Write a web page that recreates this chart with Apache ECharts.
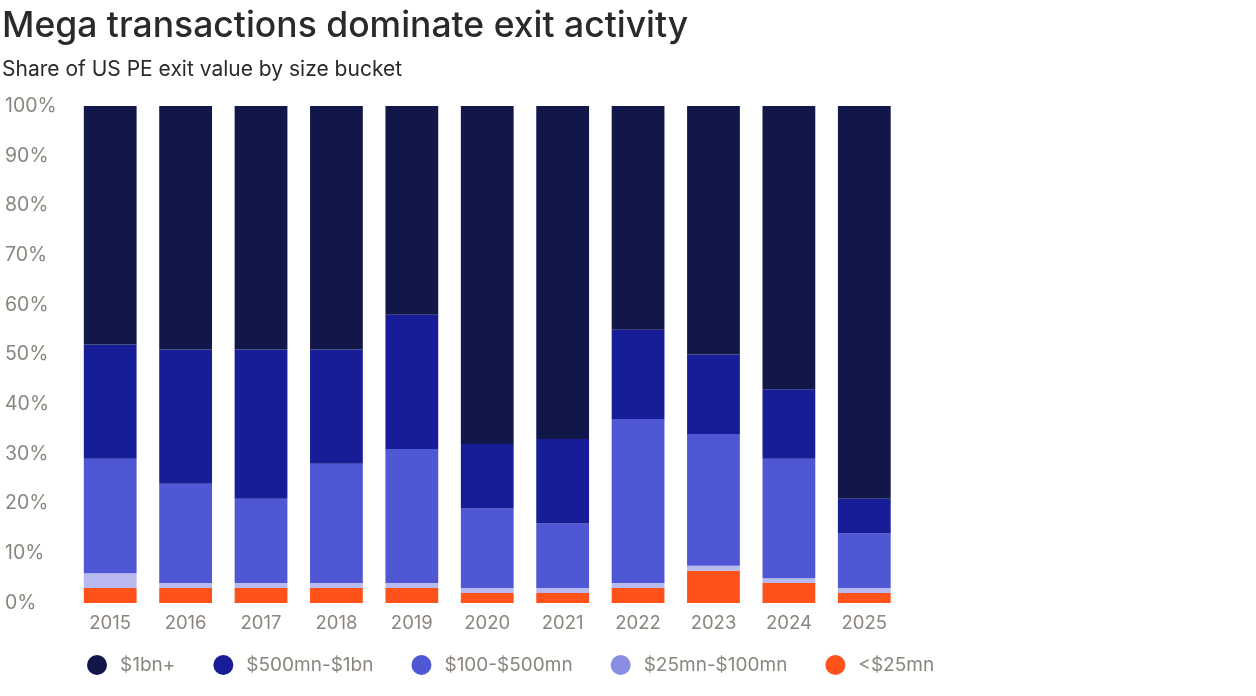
<!DOCTYPE html>
<html><head><meta charset="utf-8">
<script src="https://cdn.jsdelivr.net/npm/echarts@6/dist/echarts.min.js"></script>
<style>html,body{margin:0;padding:0;background:#fff}#c{width:1256px;height:696px}</style>
</head><body><div id="c"></div>
<script>
const years = ['2015','2016','2017','2018','2019','2020','2021','2022','2023','2024','2025'];
const lt25 = [3,3,3,3,3,2,2,3,6.5,4,2];
const m25_100 = [3,1,1,1,1,1,1,1,1,1,1];
const m100_500 = [23,20,17,24,27,16,13,33,26.5,24,11];
const m500_1bn = [23,27,30,23,27,13,17,18,16,14,7];
const bn1plus = [48,49,49,49,42,68,67,45,50,57,79];
const yTicks = ['0%','10%','20%','30%','40%','50%','60%','70%','80%','90%','100%'];

const names = ['$1bn+','$500mn-$1bn','$100-$500mn','$25mn-$100mn','<$25mn'];
const colors = {'$1bn+':'#12174a','$500mn-$1bn':'#161d96','$100-$500mn':'#5057d5','$25mn-$100mn':'#b8baef','<$25mn':'#ff521b'};
const legendColors = {'$1bn+':'#12174a','$500mn-$1bn':'#161d96','$100-$500mn':'#5057d5','$25mn-$100mn':'#8a8ee2','<$25mn':'#ff521b'};
const dataMap = {'<$25mn':lt25,'$25mn-$100mn':m25_100,'$100-$500mn':m100_500,'$500mn-$1bn':m500_1bn,'$1bn+':bn1plus};
const order = ['<$25mn','$25mn-$100mn','$100-$500mn','$500mn-$1bn','$1bn+'];

const chart = echarts.init(document.getElementById('c'));
chart.setOption({
  animation:false,
  textStyle:{fontFamily:'Inter'},
  title:[
    {text:'Mega transactions dominate exit activity',left:-3,top:3,textStyle:{fontFamily:'Inter',fontSize:35.5,fontWeight:500,color:'#2a2a2a'}},
    {text:'Share of US PE exit value by size bucket',left:-3,top:54,textStyle:{fontFamily:'Inter',fontSize:21,fontWeight:400,color:'#2a2a2a'}}
  ],
  legend:{
    left:82,top:650,icon:'circle',itemWidth:20,itemHeight:20,itemGap:38,
    textStyle:{fontSize:19,color:'#8a857e',padding:[0,0,0,8]},
    data:names.map(n=>({name:n,itemStyle:{color:legendColors[n]}}))
  },
  grid:{left:72.5,right:354,top:106,bottom:93},
  xAxis:{type:'category',data:years,axisLine:{show:false},axisTick:{show:false},
    axisLabel:{fontSize:18.5,color:'#8a857e',margin:11}},
  yAxis:{type:'value',min:0,max:100,interval:10,splitLine:{show:false},axisLine:{show:false},axisTick:{show:false},
    axisLabel:{align:'left',margin:67.5,fontSize:19.5,color:'#8a857e',formatter:(v)=>yTicks[Math.round(v/10)]}},
  series:order.map(n=>({name:n,type:'bar',stack:'s',barCategoryGap:'30%',data:dataMap[n],
    itemStyle:{color:colors[n]}}))
});
</script></body></html>
